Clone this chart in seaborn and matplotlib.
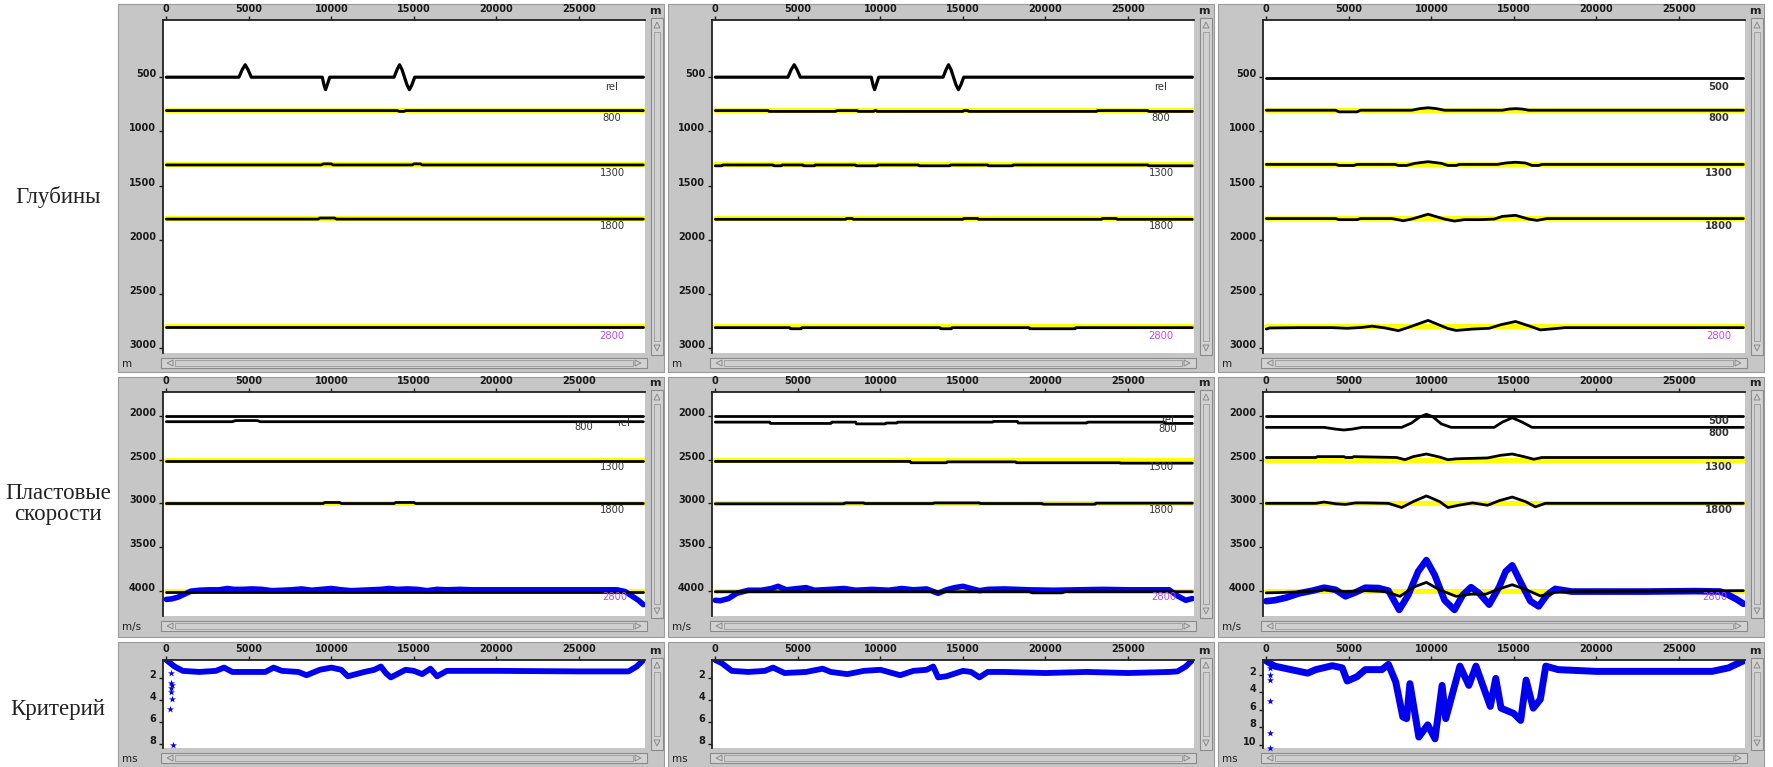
import matplotlib
matplotlib.use("Agg")
import matplotlib.pyplot as plt
from matplotlib.patches import Rectangle, Polygon
import seaborn as sns

# ---- data -------------------------------------------------------------
X_END = 28900
flat_x = [0, X_END]

# depth horizons (true = yellow)
true_depths = [800, 1300, 1800, 2800]
true_vel = [2000, 2500, 3000, 4000]

# reference horizon "rel" (cols 1, 2)
rel_x = [0, 4400, 4600, 4780, 4950, 5150, 9450, 9550, 9650, 9750, 9900, 13800, 13980, 14130,
         14280, 14430, 14580, 14730, 14880, 15050, X_END]
rel_y = [500, 500, 430, 385, 430, 500, 500, 570, 615, 570, 500, 500, 430, 385,
         430, 500, 570, 615, 570, 500, 500]

# column 1 - depths
d800_c1_x = [0, 14000, 14100, 14400, 14500, X_END]
d800_c1_y = [808, 808, 816, 816, 808, 808]
d1300_c1_x = [0, 9400, 9500, 10000, 10100, 14900, 15000, 15400, 15500, X_END]
d1300_c1_y = [1310, 1310, 1300, 1300, 1310, 1310, 1300, 1300, 1310, 1310]
d1800_c1_x = [0, 9200, 9300, 10200, 10300, X_END]
d1800_c1_y = [1810, 1810, 1800, 1800, 1810, 1810]
d2800_c1_y = [2810, 2810]

# column 2 - depths
d800_c2_x = [0, 3200, 3250, 7300, 7350, 8600, 8650, 9600, 9650, 9750, 9800, 15000, 15050,
             15300, 15350, 23100, 23150, 26200, 26250, X_END]
d800_c2_y = [808, 808, 816, 816, 808, 808, 816, 816, 808, 808, 816, 816, 808,
             808, 816, 816, 808, 808, 816, 816]
d1300_c2_x = [0, 400, 450, 3500, 3550, 4000, 4050, 5300, 5350, 6000, 6050, 8500, 8550, 9800,
              9850, 12300, 12350, 14200, 14250, 16500, 16550, 18000, 18050, 26200, 26250, X_END]
d1300_c2_y = [1318, 1318, 1310, 1310, 1318, 1318, 1310, 1310, 1318, 1318, 1310, 1310, 1318, 1318,
              1310, 1310, 1318, 1318, 1310, 1310, 1318, 1318, 1310, 1310, 1318, 1318]
d1800_c2_x = [0, 7900, 7950, 8300, 8350, 15000, 15050, 15900, 15950, 23400, 23450, 24300, 24350, X_END]
d1800_c2_y = [1812, 1812, 1804, 1804, 1812, 1812, 1804, 1804, 1812, 1812, 1804, 1804, 1812, 1812]
d2800_c2_x = [0, 4500, 4550, 5200, 5250, 13600, 13650, 14300, 14350, 19000, 19050, 21800, 21850, X_END]
d2800_c2_y = [2812, 2812, 2822, 2822, 2812, 2812, 2822, 2822, 2812, 2812, 2822, 2822, 2812, 2812]

# column 3 - depths
d500_c3_y = [505, 505]
d800_c3_x = [0, 4200, 4400, 5500, 5700, 8800, 9300, 9800, 10300, 10800, 14300, 14700, 15100, 15500,
             15900, X_END]
d800_c3_y = [805, 805, 820, 820, 805, 805, 790, 782, 790, 805, 805, 794, 790, 794, 805, 805]
d1300_c3_x = [0, 4200, 4400, 5300, 5500, 7800, 8000, 8500, 9000, 9800, 10600, 11000, 11500, 11700,
              14000, 14500, 15100, 15700, 16100, 16500, 16700, X_END]
d1300_c3_y = [1305, 1305, 1315, 1315, 1305, 1305, 1315, 1315, 1295, 1280, 1295, 1315, 1315, 1305,
              1305, 1292, 1285, 1292, 1315, 1315, 1305, 1305]
d1800_c3_x = [0, 4200, 4400, 5500, 5700, 7600, 8300, 8800, 9800, 10800, 11400, 12000, 13000, 13800,
              14300, 15100, 15900, 16400, 17000, X_END]
d1800_c3_y = [1805, 1805, 1815, 1815, 1805, 1805, 1825, 1810, 1765, 1810, 1828, 1815, 1815, 1810,
              1785, 1775, 1810, 1822, 1805, 1805]
d2800_c3_x = [0, 200, 2000, 4000, 4900, 5800, 6400, 7200, 8000, 8600, 9800, 11000, 11500, 12500,
              13500, 14200, 15100, 16000, 16600, 17400, 18100, X_END]
d2800_c3_y = [2825, 2815, 2812, 2812, 2818, 2810, 2798, 2815, 2840, 2810, 2745, 2820, 2838, 2825,
              2818, 2785, 2755, 2800, 2833, 2822, 2812, 2812]

# column 1 - interval velocities
v500_y = [2000, 2000]
v800_c1_x = [0, 4000, 4200, 5500, 5700, X_END]
v800_c1_y = [2065, 2065, 2052, 2052, 2065, 2065]
v1300_c1_y = [2510, 2510]
v1800_c1_x = [0, 9500, 9600, 10500, 10600, 13800, 13900, 15000, 15100, X_END]
v1800_c1_y = [3002, 3002, 2990, 2990, 3002, 3002, 2990, 2990, 3002, 3002]
v2800_c1_y = [4010, 4010]
blue_c1_x = [0, 300, 700, 1100, 1500, 2000, 2600, 3200, 3700, 4100, 4600, 5200, 5800, 6400, 7000,
             7600, 8200, 8800, 9400, 10000, 10600, 11200, 11800, 12400, 13000, 13500, 14000, 14600,
             15200, 15800, 16400, 17000, 17800, 18500, 20000, 22000, 24000, 26000, 27300, 27800,
             28200, 28600, X_END]
blue_c1_y = [4100, 4095, 4075, 4040, 4005, 3995, 3990, 3990, 3975, 3985, 3985, 3980, 3985, 4000, 3995,
             3990, 3980, 3995, 3985, 3975, 3990, 4000, 3995, 3990, 3985, 3975, 3985, 3980,
             3985, 4000, 3985, 3990, 3985, 3990, 3990, 3990, 3990, 3990, 3990, 4010,
             4060, 4110, 4160]

# column 2 - interval velocities
v800_c2_x = [0, 3300, 3350, 7000, 7050, 8500, 8550, 10300, 10350, 11000, 11050, 16800, 16850,
             18300, 18350, 22500, 22550, 27200, 27250, X_END]
v800_c2_y = [2070, 2070, 2085, 2085, 2070, 2070, 2090, 2090, 2080, 2080, 2070, 2070, 2062,
             2062, 2080, 2080, 2070, 2070, 2085, 2085]
v1300_c2_x = [0, 11800, 11850, 14000, 14050, 18200, 18250, 24500, 24550, X_END]
v1300_c2_y = [2520, 2520, 2535, 2535, 2525, 2525, 2535, 2535, 2540, 2540]
v1800_c2_x = [0, 7800, 7850, 9000, 9050, 13200, 13250, 16000, 16050, 19800, 19850, 23000, 23050, X_END]
v1800_c2_y = [3005, 3005, 2995, 2995, 3002, 3002, 2995, 2995, 3002, 3002, 3010, 3010, 2998, 2998]
v2800_c2_x = [0, 19000, 19200, 21000, 21200, X_END]
v2800_c2_y = [4012, 4012, 4025, 4025, 4012, 4012]
blue_c2_x = [0, 300, 800, 1300, 2000, 2800, 3400, 3800, 4300, 5000, 5500, 6000, 7000, 7800, 8500,
             9500, 10500, 11300, 12000, 12800, 13500, 14000, 14500, 15000, 15500, 16000, 16500,
             17500, 19000, 20500, 22000, 23500, 25000, 26500, 27500, 28000, 28500, X_END]
blue_c2_y = [4110, 4115, 4090, 4030, 3995, 3995, 3975, 3950, 3990, 3975, 3965, 3995, 3985, 3975, 3995,
             3985, 3995, 3975, 3990, 3980, 4030, 3990, 3965, 3950, 3975, 4000, 3985,
             3980, 3990, 3995, 3990, 3985, 3990, 3990, 3990, 4060, 4110, 4090]

# column 3 - interval velocities
v800_c3_x = [0, 3500, 4200, 4700, 5200, 5800, 8200, 8800, 9300, 9700, 10100, 10600, 11200, 13800,
             14300, 14900, 15500, 16100, X_END]
v800_c3_y = [2130, 2130, 2150, 2160, 2150, 2130, 2130, 2080, 2010, 1980, 2010, 2090, 2130, 2130,
             2070, 2020, 2070, 2130, 2130]
v1300_c3_x = [0, 3000, 3100, 4700, 4800, 5200, 5300, 7900, 8400, 8900, 9700, 10500, 11000, 11500,
              13400, 14200, 14900, 15600, 16200, 16700, X_END]
v1300_c3_y = [2475, 2475, 2465, 2465, 2475, 2475, 2465, 2475, 2500, 2465, 2435, 2470, 2500, 2490,
              2480, 2450, 2435, 2465, 2495, 2475, 2475]
v1800_c3_x = [0, 3000, 3500, 4200, 4800, 5400, 6000, 7400, 8200, 8900, 9700, 10500, 11000, 11700,
              12500, 13400, 14100, 14900, 15700, 16300, 16900, X_END]
v1800_c3_y = [3000, 3000, 2985, 3005, 3012, 2995, 2995, 3000, 3048, 2980, 2915, 2980, 3048, 3020,
              2995, 3022, 2970, 2928, 2980, 3040, 3000, 3000]
v2800_c3_x = [0, 1000, 2500, 3500, 4800, 6000, 7200, 8100, 8900, 9700, 10500, 11500, 12400, 13300,
              14100, 14900, 15700, 16600, 17500, 18500, X_END]
v2800_c3_y = [4025, 4020, 4010, 3990, 4010, 4000, 4010, 4065, 3960, 3905, 3990, 4065, 4040, 4040,
              3980, 3932, 3985, 4060, 4020, 4010, 4000]
blue_c3_x = [0, 500, 1200, 2000, 2800, 3500, 4200, 4800, 5400, 6000, 6800, 7400, 8050, 8600, 9200,
             9700, 10200, 10800, 11400, 11900, 12400, 12900, 13500, 14100, 14500, 14900, 15400,
             16000, 16500, 17000, 17500, 18500, 20000, 23000, 26000, 27500, 28000, 28500, X_END]
blue_c3_y = [4120, 4110, 4080, 4030, 4000, 3966, 3990, 4065, 4020, 3966, 3970, 4000, 4220, 4050, 3780,
             3650, 3820, 4110, 4220, 4050, 3960, 4030, 4160, 3960, 3780, 3710, 3900,
             4120, 4180, 4050, 3980, 4010, 4010, 4010, 4005, 4010, 4050, 4100, 4150]

# criterion (ms)
crit_c1_x = [0, 500, 1000, 2000, 3000, 3500, 4000, 5000, 6000, 6500, 7000, 8000, 8500, 9300, 10000,
             10600, 11000, 12000, 12600, 13000, 13300, 13600, 14500, 15000, 15500, 16000, 16400,
             17000, 17500, 20000, 25000, 28000, 28500, X_END]
crit_c1_y = [0.3, 0.9, 1.3, 1.4, 1.3, 1.0, 1.4, 1.4, 1.4, 1.0, 1.3, 1.4, 1.7, 1.2, 1.0,
             1.2, 1.8, 1.4, 1.2, 0.9, 1.5, 1.9, 1.2, 1.3, 1.6, 1.1, 1.8,
             1.3, 1.3, 1.3, 1.35, 1.35, 0.9, 0.3]
stars_c1_x = [300, 260, 330, 300, 280, 350, 250, 380]
stars_c1_y = [1.5, 2.4, 2.6, 2.9, 3.2, 3.9, 4.8, 8.1]

crit_c2_x = [0, 400, 1000, 2000, 3000, 3500, 4200, 5500, 6500, 7000, 8000, 9000, 10000, 11200, 12000,
             12800, 13200, 13500, 14000, 15000, 15500, 16000, 16500, 17500, 20000, 22500, 25000,
             27500, 28000, 28500, X_END]
crit_c2_y = [0.3, 0.6, 1.3, 1.4, 1.3, 1.0, 1.5, 1.4, 1.1, 1.4, 1.6, 1.3, 1.2, 1.7, 1.3,
             1.2, 0.9, 1.9, 1.8, 1.3, 1.4, 1.9, 1.4, 1.4, 1.5, 1.4, 1.5,
             1.4, 1.35, 0.9, 0.3]

crit_c3_x = [0, 500, 1500, 2500, 3000, 4000, 4600, 4900, 5500, 6000, 7000, 7400, 7840, 8270, 8500,
             8700, 9240, 9780, 10220, 10650, 10870, 11730, 12270, 12700, 13570, 13900, 14220, 14980,
             15410, 15740, 16170, 16600, 16930, 17680, 20000, 27000, 28000, X_END]
crit_c3_y = [0.4, 1.0, 1.4, 1.8, 1.4, 0.95, 1.2, 2.7, 2.2, 1.4, 1.4, 0.8, 2.8, 6.8, 7.0,
             3.0, 9.1, 7.7, 9.3, 3.2, 7.0, 1.0, 3.2, 1.0, 5.6, 2.4, 5.8, 6.4,
             7.2, 2.6, 5.8, 4.8, 1.0, 1.4, 1.6, 1.6, 1.2, 0.4]
stars_c3_x = [250, 250, 250, 250, 250, 250]
stars_c3_y = [1.2, 2.0, 2.6, 5.0, 8.6, 10.3]

row_names = ["Глубины", "Пластовые\nскорости", "Критерий"]
row_units = ["m", "m/s", "ms"]
x_ticks = [0, 5000, 10000, 15000, 20000, 25000]
y_ticks_depth = [500, 1000, 1500, 2000, 2500, 3000]
y_ticks_vel = [2000, 2500, 3000, 3500, 4000]
y_ticks_crit = [2, 4, 6, 8]
y_ticks_crit3 = [2, 4, 6, 8, 10]

# ---- layout (pixels) --------------------------------------------------
W, H = 1773, 767
col_left = [163, 712, 1263]
plot_w = 482
frame_left = [118, 668, 1218]
frame_w = 546
row_top = [20, 392, 660]
row_bot = [353, 616, 748]
frame_top = [4, 377, 642]
frame_bot = [372, 637, 767]

GRAY = "#c6c6c6"
BLACK = "#000000"
YELLOW = "#ffff00"
BLUE = "#0000ee"
PURPLE = "#b450e6"
LABEL_GRAY = "#333333"
LW_BLACK = 2.0
LW_YELLOW = 3.6

sns.set_theme(style="white")
plt.rcParams["font.family"] = ["DejaVu Sans"]

fig = plt.figure(figsize=(W / 100, H / 100), dpi=100)
fig.patch.set_facecolor("white")


def fx(px):
    return px / W


def fy(py):
    return 1 - py / H


def frect(x0, y0, x1, y1, **kw):
    r = Rectangle((fx(x0), fy(y1)), fx(x1) - fx(x0), fy(y0) - fy(y1),
                  transform=fig.transFigure, **kw)
    fig.add_artist(r)
    return r


def line(ax, x, y, color, lw=LW_BLACK):
    sns.lineplot(x=x, y=y, ax=ax, color=color, lw=lw, estimator=None, sort=False,
                 legend=False, solid_capstyle="round", solid_joinstyle="round")


def flat(ax, y, color, lw=LW_BLACK):
    line(ax, flat_x, y, color, lw)


def hlabel(ax, x, y, txt, color=LABEL_GRAY, bold=False):
    ax.text(x, y, txt, ha="center", va="center", fontsize=7.2, color=color,
            fontweight="bold" if bold else "normal", clip_on=True)


# gray frames + scrollbars
for c in range(3):
    for r in range(3):
        frect(frame_left[c], frame_top[r], frame_left[c] + frame_w, frame_bot[r],
              facecolor=GRAY, edgecolor="#9a9a9a", lw=0.8, zorder=-2)
        # vertical scrollbar
        sx0 = col_left[c] + plot_w + 6
        frect(sx0, row_top[r] - 2, sx0 + 12, row_bot[r] + 2,
              facecolor="#d2d2d2", edgecolor="#8a8a8a", lw=0.8, zorder=1)
        frect(sx0 + 3, row_top[r] + 12, sx0 + 9, row_bot[r] - 12,
              facecolor="#cfcfcf", edgecolor="#9a9a9a", lw=0.6, zorder=1)
        # horizontal scrollbar
        sy0 = row_bot[r] + 5
        frect(col_left[c] - 2, sy0, col_left[c] + plot_w + 2, sy0 + 10,
              facecolor="#d2d2d2", edgecolor="#8a8a8a", lw=0.8, zorder=1)
        frect(col_left[c] + 12, sy0 + 2, col_left[c] + plot_w - 12, sy0 + 8,
              facecolor="#cfcfcf", edgecolor="#9a9a9a", lw=0.6, zorder=1)
        # arrows
        ax_l, ax_r = col_left[c] + 2, col_left[c] + plot_w - 2
        for tri in ([(ax_l + 8, sy0 + 2), (ax_l + 8, sy0 + 8), (ax_l + 2, sy0 + 5)],
                    [(ax_r - 8, sy0 + 2), (ax_r - 8, sy0 + 8), (ax_r - 2, sy0 + 5)],
                    [(sx0 + 3, row_top[r] + 8), (sx0 + 9, row_top[r] + 8), (sx0 + 6, row_top[r] + 2)],
                    [(sx0 + 3, row_bot[r] - 8), (sx0 + 9, row_bot[r] - 8), (sx0 + 6, row_bot[r] - 2)]):
            fig.add_artist(Polygon([(fx(a), fy(b)) for a, b in tri], closed=True,
                                   transform=fig.transFigure, facecolor="none",
                                   edgecolor="#8a8a8a", lw=0.7, zorder=2))
        # unit labels
        fig.text(fx(frame_left[c] + 4), fy(row_bot[r] + 11), row_units[r], fontsize=7.5,
                 color="#222222", ha="left", va="center")
        fig.text(fx(col_left[c] + plot_w + 4), fy(row_top[r] - 9), "m", fontsize=8,
                 fontweight="bold", color="#222222", ha="left", va="center")

# row titles
row_title_y = [197, 504, 710]
for r in range(3):
    fig.text(fx(58), fy(row_title_y[r]), row_names[r], ha="center", va="center",
             fontsize=16.5, family=["Liberation Serif", "DejaVu Serif"], color="#222222",
             linespacing=0.95)

# axes
axes = {}
for r in range(3):
    for c in range(3):
        ax = fig.add_axes([fx(col_left[c]), fy(row_bot[r]), plot_w / W, (row_bot[r] - row_top[r]) / H])
        ax.set_facecolor("white")
        ax.set_xlim(-200, 29000)
        for s in ["right", "bottom"]:
            ax.spines[s].set_visible(False)
        for s in ["top", "left"]:
            ax.spines[s].set_color("#222222")
            ax.spines[s].set_linewidth(1.3)
        ax.xaxis.tick_top()
        ax.set_xticks(x_ticks)
        ax.tick_params(axis="x", top=True, bottom=False, labeltop=True, labelbottom=False,
                       length=3, width=1, pad=1.5, labelsize=7, colors="#1a1a1a")
        ax.tick_params(axis="y", left=True, length=3, width=1, pad=2, labelsize=7,
                       colors="#1a1a1a")
        axes[(r, c)] = ax

# row 1: depths
for c in range(3):
    ax = axes[(0, c)]
    ax.set_ylim(3046, -28)
    ax.set_yticks(y_ticks_depth)
    for d in true_depths:
        flat(ax, [d, d], YELLOW, LW_YELLOW)

ax = axes[(0, 0)]
line(ax, rel_x, rel_y, BLACK, 2.3)
line(ax, d800_c1_x, d800_c1_y, BLACK)
line(ax, d1300_c1_x, d1300_c1_y, BLACK)
line(ax, d1800_c1_x, d1800_c1_y, BLACK)
flat(ax, d2800_c1_y, BLACK)

ax = axes[(0, 1)]
line(ax, rel_x, rel_y, BLACK, 2.3)
line(ax, d800_c2_x, d800_c2_y, BLACK)
line(ax, d1300_c2_x, d1300_c2_y, BLACK)
line(ax, d1800_c2_x, d1800_c2_y, BLACK)
line(ax, d2800_c2_x, d2800_c2_y, BLACK)

ax = axes[(0, 2)]
flat(ax, d500_c3_y, BLACK)
line(ax, d800_c3_x, d800_c3_y, BLACK)
line(ax, d1300_c3_x, d1300_c3_y, BLACK)
line(ax, d1800_c3_x, d1800_c3_y, BLACK)
line(ax, d2800_c3_x, d2800_c3_y, BLACK)

for c in range(3):
    ax = axes[(0, c)]
    bold = c == 2
    lab_x = 27000 if c < 2 else 27400
    hlabel(ax, lab_x, 590, "rel" if c < 2 else "500", bold=bold)
    hlabel(ax, lab_x, 880, "800", bold=bold)
    hlabel(ax, lab_x, 1380, "1300", bold=bold)
    hlabel(ax, lab_x, 1875, "1800", bold=bold)
    hlabel(ax, lab_x, 2890, "2800", color=PURPLE)

# row 2: interval velocities
for c in range(3):
    ax = axes[(1, c)]
    ax.set_ylim(4290, 1725)
    ax.set_yticks(y_ticks_vel)
    for v in true_vel[1:]:
        flat(ax, [v, v], YELLOW, LW_YELLOW)

ax = axes[(1, 0)]
flat(ax, v500_y, BLACK)
line(ax, v800_c1_x, v800_c1_y, BLACK)
flat(ax, v1300_c1_y, BLACK)
line(ax, v1800_c1_x, v1800_c1_y, BLACK)
line(ax, blue_c1_x, blue_c1_y, BLUE, 4)
flat(ax, v2800_c1_y, BLACK)

ax = axes[(1, 1)]
flat(ax, v500_y, BLACK)
line(ax, v800_c2_x, v800_c2_y, BLACK)
line(ax, v1300_c2_x, v1300_c2_y, BLACK)
line(ax, v1800_c2_x, v1800_c2_y, BLACK)
line(ax, blue_c2_x, blue_c2_y, BLUE, 4)
line(ax, v2800_c2_x, v2800_c2_y, BLACK)

ax = axes[(1, 2)]
flat(ax, v500_y, BLACK)
line(ax, v800_c3_x, v800_c3_y, BLACK)
line(ax, v1300_c3_x, v1300_c3_y, BLACK)
line(ax, v1800_c3_x, v1800_c3_y, BLACK)
line(ax, blue_c3_x, blue_c3_y, BLUE, 4.8)
line(ax, v2800_c3_x, v2800_c3_y, BLACK)

hlabel(axes[(1, 0)], 27700, 2080, "rel")
hlabel(axes[(1, 0)], 25300, 2130, "800")
hlabel(axes[(1, 1)], 27400, 2040, "rel")
hlabel(axes[(1, 1)], 27400, 2150, "800")
hlabel(axes[(1, 2)], 27400, 2060, "500", bold=True)
hlabel(axes[(1, 2)], 27400, 2195, "800", bold=True)
for c in range(3):
    bold = c == 2
    hlabel(axes[(1, c)], 27000 if c < 2 else 27400, 2580, "1300", bold=bold)
    hlabel(axes[(1, c)], 27000 if c < 2 else 27400, 3075, "1800", bold=bold)
    hlabel(axes[(1, c)], 27200, 4075, "2800", color=PURPLE)

# row 3: criterion
ax = axes[(2, 0)]
ax.set_ylim(8.4, 0.3)
ax.set_yticks(y_ticks_crit)
line(ax, crit_c1_x, crit_c1_y, BLUE, 4.2)
ax.scatter(stars_c1_x, stars_c1_y, marker="*", s=28, color=BLUE, lw=0, clip_on=False)

ax = axes[(2, 1)]
ax.set_ylim(8.4, 0.3)
ax.set_yticks(y_ticks_crit)
line(ax, crit_c2_x, crit_c2_y, BLUE, 4.2)

ax = axes[(2, 2)]
ax.set_ylim(10.35, 0.3)
ax.set_yticks(y_ticks_crit3)
line(ax, crit_c3_x, crit_c3_y, BLUE, 5)
ax.scatter(stars_c3_x, stars_c3_y, marker="*", s=28, color=BLUE, lw=0, clip_on=False)

for ax in axes.values():
    ax.set_xlabel("")
    ax.set_ylabel("")
    for lab in ax.get_xticklabels() + ax.get_yticklabels():
        lab.set_fontweight("bold")
    for lab in ax.get_yticklabels():
        lab.set_verticalalignment("baseline")

fig.savefig("out.png", dpi=100, facecolor="white")
